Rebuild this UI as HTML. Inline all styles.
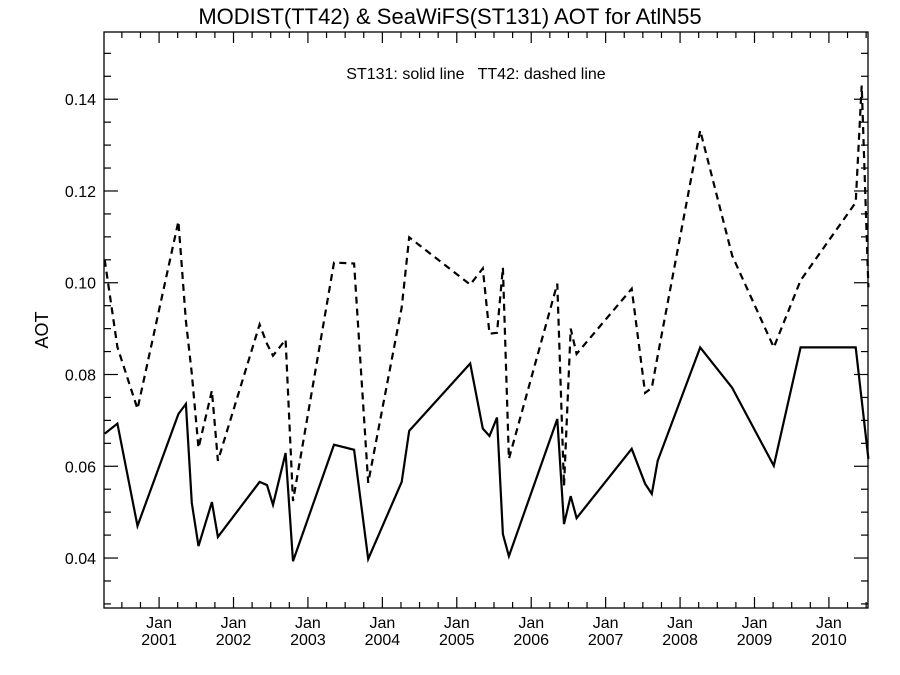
<!DOCTYPE html>
<html><head><meta charset="utf-8"><style>
html,body{margin:0;padding:0;background:#fff;}
svg{display:block;font-family:"Liberation Sans",sans-serif;}
</style></head><body>
<svg id="chart" width="900" height="675" viewBox="0 0 900 675" xmlns="http://www.w3.org/2000/svg">
<text x="450" y="24" text-anchor="middle" font-size="22">MODIST(TT42) &amp; SeaWiFS(ST131)  AOT for AtlN55</text>
<text x="476" y="79" text-anchor="middle" font-size="16" xml:space="preserve">ST131: solid line   TT42: dashed line</text>
<text x="0" y="0" transform="translate(48,330) rotate(-90)" text-anchor="middle" font-size="18">AOT</text>
<g id="axes"></g>
<g id="series"></g>
</svg>
<script>
const solidDates=[2000.27,2000.44,2000.71,2001.26,2001.36,2001.44,2001.53,2001.71,2001.79,2002.35,2002.45,2002.53,2002.70,2002.80,2003.35,2003.62,2003.81,2004.26,2004.36,2005.18,2005.35,2005.44,2005.54,2005.62,2005.70,2006.35,2006.44,2006.53,2006.61,2007.35,2007.53,2007.62,2007.70,2008.27,2008.70,2009.26,2009.62,2010.36,2010.53];
const solidAOT=[0.0671,0.0693,0.0470,0.0714,0.0736,0.0520,0.0426,0.0522,0.0446,0.0566,0.0559,0.0516,0.0629,0.0393,0.0647,0.0636,0.0398,0.0566,0.0677,0.0824,0.0682,0.0666,0.0706,0.0452,0.0404,0.0703,0.0474,0.0535,0.0487,0.0638,0.0562,0.0540,0.0612,0.0859,0.0771,0.0601,0.0859,0.0859,0.0616];
const dashedDates=[2000.27,2000.44,2000.71,2001.26,2001.36,2001.44,2001.53,2001.71,2001.79,2002.35,2002.45,2002.53,2002.70,2002.80,2003.35,2003.62,2003.81,2004.26,2004.36,2005.18,2005.35,2005.44,2005.54,2005.62,2005.70,2006.35,2006.44,2006.53,2006.61,2007.35,2007.53,2007.62,2007.70,2008.27,2008.70,2009.26,2009.62,2010.36,2010.44,2010.53];
const dashedAOT=[0.1050,0.0860,0.0725,0.1134,0.0917,0.0802,0.0640,0.0765,0.0612,0.0909,0.0867,0.0841,0.0876,0.0524,0.1044,0.1042,0.0564,0.0946,0.1099,0.0996,0.1031,0.0889,0.0891,0.1033,0.0616,0.0998,0.0557,0.0900,0.0845,0.0987,0.0760,0.0771,0.0841,0.1332,0.1059,0.0859,0.1005,0.1175,0.1430,0.0990];
const yTickLabels=["0.04","0.06","0.08","0.10","0.12","0.14"];
const xTickYears=["2001","2002","2003","2004","2005","2006","2007","2008","2009","2010"];

const L=104,R=868,T=32,B=608;
const X0=2000.26,X1=2010.525,Y0=0.02911,Y1=0.15465;
const xs=v=>L+(v-X0)/(X1-X0)*(R-L);
const ys=v=>B-(v-Y0)/(Y1-Y0)*(B-T);
const NS="http://www.w3.org/2000/svg";
const axes=document.getElementById('axes');
const series=document.getElementById('series');
function mk(tag,attrs,parent){const e=document.createElementNS(NS,tag);for(const k in attrs)e.setAttribute(k,attrs[k]);parent.appendChild(e);return e;}

const frame=mk('rect',{x:L,y:T,width:R-L,height:B-T,fill:'none',stroke:'#000','stroke-width':1.3},axes);



// y minor/major ticks
for(let v=0.03;v<=0.1546;v+=0.005){
  const y=ys(v);const major=Math.abs(Math.round(v*1000)%20)<0.5;const len=major?14:7;
  const t1=mk('line',{x1:L,x2:L+len,y1:y,y2:y,stroke:'#000','stroke-width':1.2},axes);
  
  
  const t2=mk('line',{x1:R,x2:R-len,y1:y,y2:y,stroke:'#000','stroke-width':1.2},axes);
  
  
}
yTickLabels.forEach(s=>{
  const tx=mk('text',{x:L-8,y:ys(parseFloat(s))+6,'text-anchor':'end','font-size':16},axes);
  tx.textContent=s;
  
  
});
// x ticks quarterly
for(let q=Math.ceil(X0*4);q<=Math.floor(X1*4);q++){
  const v=q/4;const x=xs(v);const major=q%4===0;const len=major?11:6;
  const t1=mk('line',{x1:x,x2:x,y1:B,y2:B-len,stroke:'#000','stroke-width':1.2},axes);
  
  
  const t2=mk('line',{x1:x,x2:x,y1:T,y2:T+len,stroke:'#000','stroke-width':1.2},axes);
  
  
}
xTickYears.forEach(s=>{
  const x=xs(parseFloat(s));
  const a=mk('text',{x:x,y:628,'text-anchor':'middle','font-size':16},axes);
  a.textContent='Jan';
  
  
  const b=mk('text',{x:x,y:645,'text-anchor':'middle','font-size':16},axes);
  b.textContent=s;
  
  
});

function pts(d,v){return d.map((t,i)=>xs(t).toFixed(1)+','+ys(v[i]).toFixed(1)).join(' ');}
const s1=mk('polyline',{points:pts(solidDates,solidAOT),fill:'none',stroke:'#000','stroke-width':2.2,'stroke-linejoin':'miter'},series);


const s2=mk('polyline',{points:pts(dashedDates,dashedAOT),fill:'none',stroke:'#000','stroke-width':2.2,'stroke-dasharray':'7,5'},series);


</script>
</body></html>
